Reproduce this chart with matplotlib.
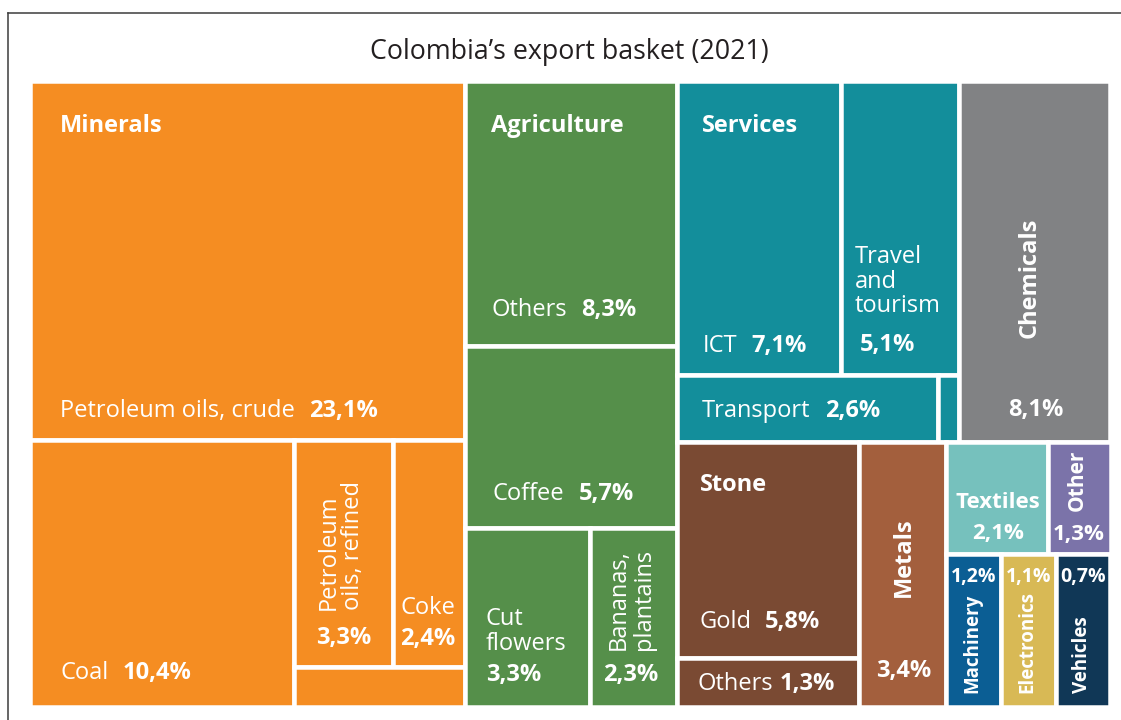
import matplotlib
matplotlib.use("Agg")
import matplotlib.pyplot as plt
from matplotlib.patches import Rectangle
from matplotlib.lines import Line2D

plt.rcParams['font.family'] = ['Open Sans', 'DejaVu Sans']

TITLE = "Colombia\u2019s export basket (2021)"

# Shares of total exports (%), grouped by sector
minerals_labels = ["Petroleum oils, crude", "Coal", "Petroleum\noils, refined", "Coke", ""]
minerals_vals = [23.1, 10.4, 3.3, 2.4, 1.0]

agri_labels = ["Others", "Coffee", "Cut\nflowers", "Bananas,\nplantains"]
agri_vals = [8.3, 5.7, 3.3, 2.3]

services_labels = ["ICT", "Travel\nand\ntourism", "Transport", ""]
services_vals = [7.1, 5.1, 2.6, 0.2]

chemicals_label = "Chemicals"
chemicals_val = 8.1

stone_labels = ["Gold", "Others"]
stone_vals = [5.8, 1.3]

metals_label = "Metals"
metals_val = 3.4

small_labels = ["Textiles", "Other", "Machinery", "Electronics", "Vehicles"]
small_vals = [2.1, 1.3, 1.2, 1.1, 0.7]

COLORS = {
    "minerals": "#f58d22",
    "agri": "#558f4a",
    "services": "#138e9b",
    "chemicals": "#818284",
    "stone": "#7a4a33",
    "metals": "#a35f3d",
    "textiles": "#76c1bd",
    "other": "#7b73a9",
    "machinery": "#0b5e94",
    "electronics": "#d8b955",
    "vehicles": "#103756",
}

W_PX, H_PX = 1121, 720
PX = 72 / 100          # points per pixel
GAP_LW = 4.5 * PX      # white gutter between tiles
FS = 17                # label font size
FS_SMALL = 13.5        # rotated labels in the narrowest tiles
LS = 1.05              # line spacing of wrapped labels


def split(rect, weights, axis):
    """Slice a rectangle into parts proportional to weights."""
    x, y, w, h = rect
    total = float(sum(weights))
    out, pos = [], 0.0
    for wt in weights:
        f = wt / total
        if axis == "x":
            out.append((x + pos * w, y, f * w, h))
        else:
            out.append((x, y + pos * h, w, f * h))
        pos += f
    return out


def pct(v):
    return f"{v:.1f}".replace(".", ",") + "%"


fig = plt.figure(figsize=(W_PX / 100, H_PX / 100), dpi=100)
ax = fig.add_axes([29.5 / W_PX, 1 - 706.5 / H_PX, 1081 / W_PX, 626 / H_PX])
ax.set_xlim(0, 1)
ax.set_ylim(1, 0)
ax.axis("off")


def tile(rect, color):
    x, y, w, h = rect
    ax.add_patch(Rectangle((x, y), w, h, facecolor=color, edgecolor="white",
                           linewidth=GAP_LW, clip_on=False))


def label(text, rect, h="left", v="bottom", dx=0, dy=0, ha=None, va=None,
          weight="normal", rotation=0, size=None, **kw):
    x, y, w, hh = rect
    ax_x = {"left": x, "center": x + w / 2, "right": x + w}[h]
    ax_y = {"top": y, "center": y + hh / 2, "bottom": y + hh}[v]
    return ax.annotate(text, xy=(ax_x, ax_y), xytext=(dx * PX, dy * PX),
                       textcoords="offset points", ha=ha or "left",
                       va=va or "center", color="white", fontsize=size or FS,
                       fontweight=weight, rotation=rotation, **kw)


def follow(text_artist, text, gap=14):
    return ax.annotate(text, xy=(1, 0), xycoords=text_artist,
                       xytext=(gap * PX, 0), textcoords="offset points",
                       ha="left", va="bottom", color="white", fontsize=FS,
                       fontweight="bold")


# ---- overall layout: three columns ----
sector_totals = [sum(minerals_vals), sum(agri_vals),
                 sum(services_vals) + chemicals_val + sum(stone_vals)
                 + metals_val + sum(small_vals)]
col_min, col_agri, col_right = split((0, 0, 1, 1), sector_totals, "x")

# Minerals
r_crude, r_min_bottom = split(col_min, [minerals_vals[0], sum(minerals_vals[1:])], "y")
r_coal, r_min_rest = split(r_min_bottom, [minerals_vals[1], sum(minerals_vals[2:])], "x")
r_ref_coke, r_min_other = split(r_min_rest, [sum(minerals_vals[2:4]), minerals_vals[4]], "y")
r_refined, r_coke = split(r_ref_coke, minerals_vals[2:4], "x")
for r in (r_crude, r_coal, r_refined, r_coke, r_min_other):
    tile(r, COLORS["minerals"])

label("Minerals", r_crude, "left", "top", 30.5, -46, weight="bold")
t = label(minerals_labels[0], r_crude, "left", "bottom", 30.5, 17.5, va="bottom")
follow(t, pct(minerals_vals[0]))
t = label(minerals_labels[1], r_coal, "left", "bottom", 30.5, 21.5, va="bottom")
follow(t, pct(minerals_vals[1]))
label(minerals_labels[2], r_refined, "center", "bottom", -3, 56.5, ha="center",
      va="bottom", rotation=90, multialignment="left", linespacing=LS)
label(pct(minerals_vals[2]), r_refined, "center", "bottom", 0, 28.5, ha="center", weight="bold")
label(minerals_labels[3], r_coke, "center", "bottom", -1, 58.5, ha="center")
label(pct(minerals_vals[3]), r_coke, "center", "bottom", -1, 27.5, ha="center", weight="bold")

# Agriculture
r_agri_oth, r_coffee, r_agri_bottom = split(col_agri, [agri_vals[0], agri_vals[1],
                                                       sum(agri_vals[2:])], "y")
r_flowers, r_bananas = split(r_agri_bottom, agri_vals[2:], "x")
for r in (r_agri_oth, r_coffee, r_flowers, r_bananas):
    tile(r, COLORS["agri"])

label("Agriculture", r_agri_oth, "left", "top", 26, -46, weight="bold")
t = label(agri_labels[0], r_agri_oth, "left", "bottom", 27, 23.5, va="bottom")
follow(t, pct(agri_vals[0]))
t = label(agri_labels[1], r_coffee, "left", "bottom", 28, 21.5, va="bottom")
follow(t, pct(agri_vals[1]))
label(agri_labels[2], r_flowers, "left", "bottom", 21, 75, linespacing=LS)
label(pct(agri_vals[2]), r_flowers, "left", "bottom", 21, 32, weight="bold")
label(agri_labels[3], r_bananas, "center", "bottom", -2, 56.5, ha="center",
      va="bottom", rotation=90, multialignment="left", linespacing=LS)
label(pct(agri_vals[3]), r_bananas, "center", "bottom", -3, 31.5, ha="center", weight="bold")

# Right block: services + chemicals on top, goods below
top_total = sum(services_vals) + chemicals_val
bottom_total = sum(stone_vals) + metals_val + sum(small_vals)
r_top, r_bottom = split(col_right, [top_total, bottom_total], "y")
r_serv, r_chem = split(r_top, [sum(services_vals), chemicals_val], "x")
r_serv_top, r_serv_bot = split(r_serv, [sum(services_vals[:2]), sum(services_vals[2:])], "y")
r_ict, r_travel = split(r_serv_top, services_vals[:2], "x")
r_transport, r_serv_other = split(r_serv_bot, services_vals[2:], "x")
for r in (r_ict, r_travel, r_transport, r_serv_other):
    tile(r, COLORS["services"])
tile(r_chem, COLORS["chemicals"])

label("Services", r_ict, "left", "top", 25, -46, weight="bold")
t = label(services_labels[0], r_ict, "left", "bottom", 26, 17, va="bottom")
follow(t, pct(services_vals[0]))
label(services_labels[1], r_travel, "left", "bottom", 14, 93, linespacing=LS)
label(pct(services_vals[1]), r_travel, "left", "bottom", 19, 30, weight="bold")
t = label(services_labels[2], r_transport, "left", "center", 25, -15, va="bottom")
follow(t, pct(services_vals[2]))
label(chemicals_label, r_chem, "center", "bottom", -5, 104.5, ha="center",
      va="bottom", rotation=90, weight="bold")
label(pct(chemicals_val), r_chem, "center", "bottom", 1, 32, ha="center", weight="bold")

r_stone, r_metals, r_small = split(r_bottom, [sum(stone_vals), metals_val, sum(small_vals)], "x")
r_gold, r_stone_oth = split(r_stone, stone_vals, "y")
tile(r_gold, COLORS["stone"])
tile(r_stone_oth, COLORS["stone"])
tile(r_metals, COLORS["metals"])

label("Stone", r_gold, "left", "top", 23, -42.5, weight="bold")
t = label(stone_labels[0], r_gold, "left", "bottom", 22, 24.5, va="bottom")
follow(t, pct(stone_vals[0]))
t = label(stone_labels[1], r_stone_oth, "left", "center", 20, -14, va="bottom")
follow(t, pct(stone_vals[1]), gap=7)
label(metals_label, r_metals, "center", "bottom", 1, 109.5, ha="center",
      va="bottom", rotation=90, weight="bold")
label(pct(metals_val), r_metals, "center", "bottom", 1, 35.5, ha="center", weight="bold")

# Smallest categories: bottom row tiles get equal widths so the labels fit
r_small_top, r_small_bot = split(r_small, [0.425, 0.575], "y")
r_textiles, r_other = split(r_small_top, small_vals[:2], "x")
r_mach, r_elec, r_veh = split(r_small_bot, [1, 1, 1], "x")
small_rects = [r_textiles, r_other, r_mach, r_elec, r_veh]
small_keys = ["textiles", "other", "machinery", "electronics", "vehicles"]
for r, k in zip(small_rects, small_keys):
    tile(r, COLORS[k])

label(small_labels[0], r_textiles, "center", "bottom", 1, 52, ha="center",
      weight="bold", size=16)
label(pct(small_vals[0]), r_textiles, "center", "bottom", 1, 20.5, ha="center",
      weight="bold", size=16)
label(small_labels[1], r_other, "center", "bottom", -2, 43.5, ha="center",
      va="bottom", rotation=90, weight="bold", size=15)
label(pct(small_vals[1]), r_other, "center", "bottom", -1, 19.5, ha="center",
      weight="bold", size=16)
for r, name, v in zip(small_rects[2:], small_labels[2:], small_vals[2:]):
    label(pct(v), r, "center", "top", 0, -23, ha="center", weight="bold",
          size=FS_SMALL + 0.5)
    label(name, r, "center", "bottom", -1, 13.5, ha="center", va="bottom",
          rotation=90, weight="bold", size=FS_SMALL)

# Title and frame
fig.text(569 / W_PX, 1 - 52 / H_PX, TITLE, ha="center", va="center",
         fontsize=19.3, color="#231f20")
fx = 7.5 / W_PX
fy = 1 - 13 / H_PX
fig.add_artist(Line2D([fx, fx], [0, fy], transform=fig.transFigure,
                      color="#3c3c3c", lw=1.1))
fig.add_artist(Line2D([fx, 1], [fy, fy], transform=fig.transFigure,
                      color="#3c3c3c", lw=1.1))

fig.savefig("out.png", dpi=100)
